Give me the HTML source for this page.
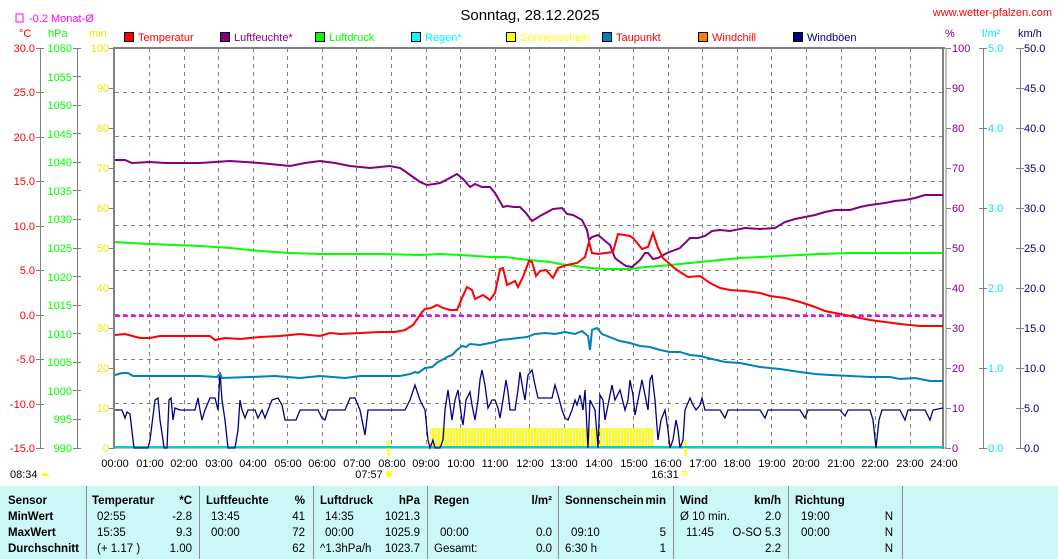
<!DOCTYPE html>
<html><head><meta charset="utf-8">
<style>
html,body{margin:0;padding:0;background:#fff;width:1058px;height:559px;overflow:hidden}
svg{display:block;font-family:"Liberation Sans",Arial,sans-serif;font-size:11px}
.t{font-family:"Liberation Sans",Arial,sans-serif;font-size:11.5px}
</style></head><body>
<svg width="1058" height="559" viewBox="0 0 1058 559" xmlns="http://www.w3.org/2000/svg">
<defs>
<pattern id="sun" x="0" y="0" width="3" height="20" patternUnits="userSpaceOnUse">
<rect x="0" y="0" width="2" height="20" fill="#ffff00"/>
</pattern>
</defs>
<!-- title -->
<text x="530" y="20" font-size="15" text-anchor="middle" fill="#000">Sonntag, 28.12.2025</text>
<text x="1052" y="16" font-size="11" text-anchor="end" fill="#ff0000">www.wetter-pfalzen.com</text>
<rect x="16" y="14" width="7" height="8" fill="none" stroke="#ff00ff"/>
<text x="29" y="22" fill="#ff00ff">-0.2 Monat-Ø</text>
<text x="19" y="37" fill="#ff0000">°C</text>
<text x="48" y="37" fill="#00ff00">hPa</text>
<text x="89" y="37" fill="#e8e800">min</text>
<text x="945" y="37" fill="#800080">%</text>
<text x="982" y="37" fill="#00e8e8">l/m²</text>
<text x="1018" y="37" fill="#000080">km/h</text>
<!-- legend -->
<g stroke="#000" stroke-width="1">
<rect x="124.5" y="32.5" width="9" height="9" fill="#ff0000"/>
<rect x="220.5" y="32.5" width="9" height="9" fill="#800080"/>
<rect x="315.5" y="32.5" width="9" height="9" fill="#00ff00"/>
<rect x="411.5" y="32.5" width="9" height="9" fill="#00ffff"/>
<rect x="506.5" y="32.5" width="9" height="9" fill="#ffff00"/>
<rect x="602.5" y="32.5" width="9" height="9" fill="#0080c0"/>
<rect x="698.5" y="32.5" width="9" height="9" fill="#ff8000"/>
<rect x="793.5" y="32.5" width="9" height="9" fill="#000080"/>
</g>
<text x="138" y="41" fill="#ff0000">Temperatur</text>
<text x="234" y="41" fill="#800080">Luftfeuchte*</text>
<text x="329" y="41" fill="#00ff00">Luftdruck</text>
<text x="425" y="41" fill="#00ffff">Regen*</text>
<text x="520" y="41" fill="#ffff00">Sonnenschein</text>
<text x="616" y="41" fill="#ff0000">Taupunkt</text>
<text x="712" y="41" fill="#ff0000">Windchill</text>
<text x="807" y="41" fill="#000080">Windböen</text>

<!-- grid -->
<g stroke="#808080" stroke-width="1" stroke-dasharray="4,4">
<line x1="115" y1="92.5" x2="943" y2="92.5"/><line x1="115" y1="136.5" x2="943" y2="136.5"/>
<line x1="115" y1="181.5" x2="943" y2="181.5"/><line x1="115" y1="225.5" x2="943" y2="225.5"/>
<line x1="115" y1="270.5" x2="943" y2="270.5"/><line x1="115" y1="314.5" x2="943" y2="314.5"/>
<line x1="115" y1="359.5" x2="943" y2="359.5"/><line x1="115" y1="403.5" x2="943" y2="403.5"/>
<line x1="149.5" y1="48" x2="149.5" y2="448"/><line x1="184.5" y1="48" x2="184.5" y2="448"/>
<line x1="218.5" y1="48" x2="218.5" y2="448"/><line x1="253.5" y1="48" x2="253.5" y2="448"/>
<line x1="287.5" y1="48" x2="287.5" y2="448"/><line x1="322.5" y1="48" x2="322.5" y2="448"/>
<line x1="356.5" y1="48" x2="356.5" y2="448"/><line x1="391.5" y1="48" x2="391.5" y2="448"/>
<line x1="426.5" y1="48" x2="426.5" y2="448"/><line x1="460.5" y1="48" x2="460.5" y2="448"/>
<line x1="495.5" y1="48" x2="495.5" y2="448"/><line x1="529.5" y1="48" x2="529.5" y2="448"/>
<line x1="564.5" y1="48" x2="564.5" y2="448"/><line x1="599.5" y1="48" x2="599.5" y2="448"/>
<line x1="633.5" y1="48" x2="633.5" y2="448"/><line x1="668.5" y1="48" x2="668.5" y2="448"/>
<line x1="702.5" y1="48" x2="702.5" y2="448"/><line x1="737.5" y1="48" x2="737.5" y2="448"/>
<line x1="771.5" y1="48" x2="771.5" y2="448"/><line x1="806.5" y1="48" x2="806.5" y2="448"/>
<line x1="841.5" y1="48" x2="841.5" y2="448"/><line x1="875.5" y1="48" x2="875.5" y2="448"/>
<line x1="910.5" y1="48" x2="910.5" y2="448"/>
</g>
<!-- sunshine -->
<rect x="430" y="428" width="224" height="20" fill="url(#sun)"/>
<!-- plot frame -->
<g stroke="#808080" fill="none">
<line x1="114" y1="47" x2="114" y2="449" stroke-width="2"/>
<line x1="113" y1="48" x2="945" y2="48" stroke-width="2"/>
<line x1="943" y1="48" x2="943" y2="449" stroke-width="2"/>
<line x1="946" y1="48" x2="946" y2="449" stroke-width="1"/>
<line x1="114" y1="448" x2="946" y2="448" stroke-width="1"/>
<!-- left axes -->
<line x1="40.5" y1="48" x2="40.5" y2="448"/>
<line x1="77.5" y1="48" x2="77.5" y2="448"/>
<line x1="983.5" y1="48" x2="983.5" y2="448"/>
<line x1="1020.5" y1="48" x2="1020.5" y2="448"/>
<path d="M36 48.5h8M36 92.5h8M36 137.5h8M36 181.5h8M36 226.5h8M36 270.5h8M36 315.5h8M36 359.5h8M36 404.5h8M36 448.5h8"/>
<path d="M73 48.5h8M73 76.5h8M73 105.5h8M73 133.5h8M73 162.5h8M73 190.5h8M73 219.5h8M73 248.5h8M73 276.5h8M73 305.5h8M73 333.5h8M73 362.5h8M73 390.5h8M73 419.5h8M73 448.5h8"/>
<path d="M109 48.5h5M109 88.5h5M109 128.5h5M109 168.5h5M109 208.5h5M109 248.5h5M109 288.5h5M109 328.5h5M109 368.5h5M109 408.5h5M109 448.5h5"/>
<path d="M946 48.5h5M946 88.5h5M946 128.5h5M946 168.5h5M946 208.5h5M946 248.5h5M946 288.5h5M946 328.5h5M946 368.5h5M946 408.5h5M946 448.5h5"/>
<path d="M979 48.5h8M979 128.5h8M979 208.5h8M979 288.5h8M979 368.5h8M979 448.5h8"/>
<path d="M1016 48.5h8M1016 88.5h8M1016 128.5h8M1016 168.5h8M1016 208.5h8M1016 248.5h8M1016 288.5h8M1016 328.5h8M1016 368.5h8M1016 408.5h8M1016 448.5h8"/>
</g>
<!-- left labels -->
<g fill="#ff0000" text-anchor="end">
<text x="35" y="52">30.0</text><text x="35" y="96">25.0</text><text x="35" y="141">20.0</text><text x="35" y="185">15.0</text><text x="35" y="230">10.0</text><text x="35" y="274">5.0</text><text x="35" y="319">0.0</text><text x="35" y="363">-5.0</text><text x="35" y="408">-10.0</text><text x="35" y="452">-15.0</text>
</g>
<g fill="#00ff00" text-anchor="end">
<text x="72" y="52">1060</text><text x="72" y="81">1055</text><text x="72" y="109">1050</text><text x="72" y="138">1045</text><text x="72" y="166">1040</text><text x="72" y="195">1035</text><text x="72" y="223">1030</text><text x="72" y="252">1025</text><text x="72" y="281">1020</text><text x="72" y="309">1015</text><text x="72" y="338">1010</text><text x="72" y="366">1005</text><text x="72" y="395">1000</text><text x="72" y="423">995</text><text x="72" y="452">990</text>
</g>
<g fill="#e8e800" text-anchor="end">
<text x="109" y="52">100</text><text x="109" y="92">90</text><text x="109" y="132">80</text><text x="109" y="172">70</text><text x="109" y="212">60</text><text x="109" y="252">50</text><text x="109" y="292">40</text><text x="109" y="332">30</text><text x="109" y="372">20</text><text x="109" y="412">10</text><text x="109" y="452">0</text>
</g>
<g fill="#800080">
<text x="952" y="52">100</text><text x="952" y="92">90</text><text x="952" y="132">80</text><text x="952" y="172">70</text><text x="952" y="212">60</text><text x="952" y="252">50</text><text x="952" y="292">40</text><text x="952" y="332">30</text><text x="952" y="372">20</text><text x="952" y="412">10</text><text x="952" y="452">0</text>
</g>
<g fill="#00e8e8">
<text x="988" y="52">5.0</text><text x="988" y="132">4.0</text><text x="988" y="212">3.0</text><text x="988" y="292">2.0</text><text x="988" y="372">1.0</text><text x="988" y="452">0.0</text>
</g>
<g fill="#000080">
<text x="1024" y="52">50.0</text><text x="1024" y="92">45.0</text><text x="1024" y="132">40.0</text><text x="1024" y="172">35.0</text><text x="1024" y="212">30.0</text><text x="1024" y="252">25.0</text><text x="1024" y="292">20.0</text><text x="1024" y="332">15.0</text><text x="1024" y="372">10.0</text><text x="1024" y="412">5.0</text><text x="1024" y="452">0.0</text>
</g>
<!-- x labels -->
<g fill="#000" text-anchor="middle">
<text x="115" y="467">00:00</text><text x="150" y="467">01:00</text><text x="184" y="467">02:00</text><text x="219" y="467">03:00</text><text x="253" y="467">04:00</text><text x="288" y="467">05:00</text><text x="322" y="467">06:00</text><text x="357" y="467">07:00</text><text x="392" y="467">08:00</text><text x="426" y="467">09:00</text><text x="461" y="467">10:00</text><text x="495" y="467">11:00</text><text x="530" y="467">12:00</text><text x="564" y="467">13:00</text><text x="599" y="467">14:00</text><text x="634" y="467">15:00</text><text x="668" y="467">16:00</text><text x="703" y="467">17:00</text><text x="737" y="467">18:00</text><text x="772" y="467">19:00</text><text x="806" y="467">20:00</text><text x="841" y="467">21:00</text><text x="875" y="467">22:00</text><text x="910" y="467">23:00</text><text x="944" y="467">24:00</text>
<text x="369" y="478">07:57</text><text x="665" y="478">16:31</text>
</g>
<text x="10" y="478" fill="#000">08:34</text>
<path d="M41 476a4 3 0 0 1 8 0z" fill="#ffff00"/>
<circle cx="389" cy="474" r="3" fill="#ffff00"/>
<rect x="682.5" y="471.5" width="4" height="4" fill="none" stroke="#ffff00"/>
<line x1="388.5" y1="440" x2="388.5" y2="456" stroke="#ffff00" stroke-width="2"/>
<line x1="685.5" y1="440" x2="685.5" y2="456" stroke="#ffff00" stroke-width="2"/>

<!-- rain baseline -->
<line x1="115" y1="447" x2="943" y2="447" stroke="#00d0d0" stroke-width="2"/>
<!-- monthly avg dashed -->
<line x1="115" y1="316" x2="943" y2="316" stroke="#ff00ff" stroke-width="2" stroke-dasharray="5,3"/>

<!-- wind gusts -->
<polyline fill="none" stroke="#000080" stroke-width="1.3" points="115,410 122,410 125,418 127,412 130,414 133,440 134,448 148,448 150,440 155,400 158,398 160,420 163,440 164,448 167,448 169,400 171,398 173,420 175,408 180,410 195,410 198,398 200,410 202,420 205,410 210,398 215,398 218,410 220,372 222,400 225,420 228,448 235,448 238,430 240,400 242,410 245,418 248,410 255,410 258,418 262,410 265,418 268,410 272,400 278,398 282,405 285,420 290,420 296,420 300,410 305,410 318,410 322,418 325,420 328,410 345,410 350,398 355,398 360,410 362,420 365,435 368,410 395,410 405,410 410,400 415,385 420,400 425,410 428,440 430,448 433,440 435,448 440,448 443,440 445,410 448,390 450,405 452,420 455,400 458,390 460,405 462,420 463,425 466,400 470,392 472,405 475,420 478,400 480,380 482,370 485,385 488,408 492,400 495,400 498,408 500,418 503,400 506,380 508,392 510,410 515,410 518,390 520,372 523,390 525,400 528,375 532,370 535,385 538,398 552,398 555,385 558,395 562,410 565,418 568,420 572,410 575,400 577,405 580,395 583,410 585,390 588,448 590,400 595,410 598,448 600,395 603,400 605,420 610,395 612,385 615,400 620,390 625,410 628,400 630,380 633,395 635,415 638,400 642,380 645,395 648,410 650,380 652,375 655,400 658,440 661,420 665,410 668,430 670,448 673,440 676,420 678,430 680,448 683,440 685,410 690,398 693,405 696,410 700,405 702,398 705,410 720,410 725,418 728,410 760,410 765,418 768,410 800,410 805,418 808,410 840,410 845,416 848,410 870,410 873,420 876,448 879,420 882,410 900,410 905,420 908,410 925,410 930,420 933,410 943,408"/>

<!-- dew point -->
<polyline fill="none" stroke="#0080c0" stroke-width="2" points="115,375 122,373 128,373 133,376 160,376 200,376 217,377 220,374 222,378 250,377 275,376 300,378 320,376 345,378 360,376 400,376 410,374 415,372 418,373 425,368 432,367 438,362 442,360 447,357 452,355 457,350 462,346 466,347 470,344 480,345 490,343 495,342 500,340 510,339 518,338 527,337 535,334 545,333 555,334 565,332 575,334 582,331 588,336 590,350 592,330 597,328 602,334 612,338 620,341 630,343 640,346 650,347 660,350 670,352 680,352 690,355 700,356 712,359 725,362 740,363 760,367 780,369 800,372 815,374 830,375 850,376 870,377 890,377 900,379 915,378 925,380 930,381 943,381"/>

<!-- pressure -->
<polyline fill="none" stroke="#00ff00" stroke-width="2" points="115,242 130,243 150,244 175,245 200,246 230,248 260,251 290,253 320,254 350,254 380,254 420,255 440,254 460,255 475,256 490,257 505,257 520,259 530,260 540,261 550,262 560,264 575,266 590,268 605,269 630,269 645,267 660,266 680,264 700,262 720,260 740,258 760,257 780,256 800,255 820,254 850,253 880,253 943,253"/>

<!-- humidity -->
<polyline fill="none" stroke="#800080" stroke-width="2" points="115,160 125,160 132,163 150,162 165,163 200,163 215,162 230,161 245,162 260,163 280,165 290,166 305,163 320,161 335,163 350,166 370,168 380,167 390,166 400,168 406,172 413,177 420,182 427,185 434,184 440,183 448,179 457,174 463,179 470,187 475,184 482,187 490,187 495,193 503,207 507,206 514,207 520,207 526,213 532,221 540,216 553,209 562,208 567,214 573,215 582,220 587,230 589,240 592,237 598,235 604,240 610,245 615,258 620,262 626,266 632,267 640,260 645,253 648,253 653,259 658,258 667,253 680,248 690,238 698,238 705,236 712,231 720,230 730,231 745,228 760,229 775,228 785,222 795,219 805,217 815,215 825,212 835,210 850,210 860,207 870,205 885,203 895,201 905,200 915,198 925,195 943,195"/>

<!-- temperature -->
<polyline fill="none" stroke="#ff0000" stroke-width="2" points="115,335 125,334 140,338 150,338 160,336 185,336 210,336 215,340 225,338 240,339 260,337 280,336 300,334 320,336 330,333 340,334 360,333 380,332 395,332 405,330 413,325 418,318 422,312 425,309 431,308 437,305 443,308 450,310 457,310 462,298 467,287 472,290 475,299 483,295 490,300 495,293 500,269 503,268 507,285 515,281 518,287 523,277 529,261 532,262 536,276 540,271 546,270 553,278 558,268 567,265 577,263 585,257 589,242 592,253 598,254 613,252 618,234 630,236 633,238 642,249 648,247 653,233 658,248 663,258 673,267 680,272 688,277 700,276 710,283 720,288 730,290 745,291 760,293 770,296 785,298 800,302 815,307 825,311 840,314 855,317 870,320 885,322 900,324 920,326 943,326"/>

<!-- table -->
<rect x="0" y="486" width="1058" height="73" fill="#ccf7f7"/>
<g stroke="#909090" stroke-width="1">
<line x1="86.5" y1="486" x2="86.5" y2="559"/><line x1="199.5" y1="486" x2="199.5" y2="559"/>
<line x1="313.5" y1="486" x2="313.5" y2="559"/><line x1="427.5" y1="486" x2="427.5" y2="559"/>
<line x1="558.5" y1="486" x2="558.5" y2="559"/><line x1="673.5" y1="486" x2="673.5" y2="559"/>
<line x1="788.5" y1="486" x2="788.5" y2="559"/><line x1="902.5" y1="486" x2="902.5" y2="559"/>
</g>
<g class="t" font-weight="bold" fill="#000">
<text x="8" y="504">Sensor</text><text x="8" y="520">MinWert</text><text x="8" y="536">MaxWert</text><text x="8" y="552">Durchschnitt</text>
<text x="92" y="504">Temperatur</text><text x="192" y="504" text-anchor="end">*C</text>
<text x="206" y="504">Luftfeuchte</text><text x="305" y="504" text-anchor="end">%</text>
<text x="320" y="504">Luftdruck</text><text x="420" y="504" text-anchor="end">hPa</text>
<text x="434" y="504">Regen</text><text x="552" y="504" text-anchor="end">l/m²</text>
<text x="565" y="504">Sonnenschein</text><text x="666" y="504" text-anchor="end">min</text>
<text x="680" y="504">Wind</text><text x="781" y="504" text-anchor="end">km/h</text>
<text x="795" y="504">Richtung</text>
</g>
<g class="t" fill="#000">
<text x="97" y="520">02:55</text><text x="192" y="520" text-anchor="end">-2.8</text>
<text x="97" y="536">15:35</text><text x="192" y="536" text-anchor="end">9.3</text>
<text x="97" y="552">(+ 1.17 )</text><text x="192" y="552" text-anchor="end">1.00</text>
<text x="211" y="520">13:45</text><text x="305" y="520" text-anchor="end">41</text>
<text x="211" y="536">00:00</text><text x="305" y="536" text-anchor="end">72</text>
<text x="305" y="552" text-anchor="end">62</text>
<text x="325" y="520">14:35</text><text x="420" y="520" text-anchor="end">1021.3</text>
<text x="325" y="536">00:00</text><text x="420" y="536" text-anchor="end">1025.9</text>
<text x="320" y="552">^1.3hPa/h</text><text x="420" y="552" text-anchor="end">1023.7</text>
<text x="440" y="536">00:00</text><text x="552" y="536" text-anchor="end">0.0</text>
<text x="434" y="552">Gesamt:</text><text x="552" y="552" text-anchor="end">0.0</text>
<text x="571" y="536">09:10</text><text x="666" y="536" text-anchor="end">5</text>
<text x="565" y="552">6:30 h</text><text x="666" y="552" text-anchor="end">1</text>
<text x="680" y="520">Ø 10 min.</text><text x="781" y="520" text-anchor="end">2.0</text>
<text x="686" y="536">11:45</text><text x="781" y="536" text-anchor="end">O-SO 5.3</text>
<text x="781" y="552" text-anchor="end">2.2</text>
<text x="801" y="520">19:00</text><text x="893" y="520" text-anchor="end">N</text>
<text x="801" y="536">00:00</text><text x="893" y="536" text-anchor="end">N</text>
<text x="893" y="552" text-anchor="end">N</text>
</g>
</svg>
</body></html>
